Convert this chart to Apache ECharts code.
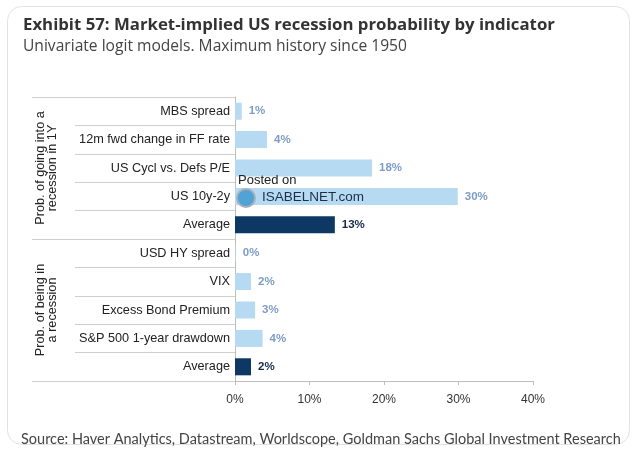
<!DOCTYPE html>
<html><head><meta charset="utf-8">
<script src="https://cdn.jsdelivr.net/npm/echarts@6/dist/echarts.min.js"></script>
<style>html,body{margin:0;padding:0;background:#fff}#c{width:637px;height:452px}</style>
</head><body><div id="c"></div>
<script>
const categories = ['MBS spread','12m fwd change in FF rate','US Cycl vs. Defs P/E','US 10y-2y','Average',
  'USD HY spread','VIX','Excess Bond Premium','S&P 500 1-year drawdown','Average'];
const values = [0.9, 4.3, 18.4, 29.9, 13.4, 0.1, 2.15, 2.7, 3.7, 2.15];
const isAverage = [false,false,false,false,true,false,false,false,false,true];
const groups = ['Prob. of going into a\nrecession in 1Y', 'Prob. of being in\na recession'];
const xTicks = [0, 10, 20, 30, 40];

const chart = echarts.init(document.getElementById('c'), null, {renderer:'canvas'});
const lightBar = '#b5daf2', darkBar = '#0d3863';
const lineCol = '#cfcfcf';
chart.setOption({
  animation:false,
  backgroundColor:'#fff',
  title:[
    {text:'Exhibit 57: Market-implied US recession probability by indicator',
     subtext:'Univariate logit models. Maximum history since 1950',
     left:18, top:12, itemGap:5,
     textStyle:{fontFamily:'Open Sans', fontWeight:'bold', fontSize:16.8, color:'#333'},
     subtextStyle:{fontFamily:'Open Sans', fontSize:15.6, color:'#444'}},
    {text:'Source: Haver Analytics, Datastream, Worldscope, Goldman Sachs Global Investment Research',
     left:16, top:427, textStyle:{fontFamily:'Lato', fontWeight:'normal', fontSize:14.5, color:'#444'}}
  ],
  graphic:[
    {type:'rect', shape:{x:7.5, y:6.5, width:622, height:438, r:14}, style:{fill:'none', stroke:'#e2e2e2', lineWidth:1}, z:-1},
    {type:'text', left:238, top:174, style:{text:'Posted on', font:'13px "Liberation Sans"', fill:'#222'}, z:50},
    {type:'circle', shape:{cx:246, cy:198, r:9}, style:{fill:'#4fa3d6', stroke:'#a8b0b8', lineWidth:2}, z:50},
    {type:'text', left:262, top:190, style:{text:'ISABELNET.com', font:'13.5px "Liberation Sans"', fill:'#1e2f45'}, z:50}
  ],
  grid:{left:235, right:104, top:97, bottom:71},
  xAxis:{type:'value', min:0, max:40, interval:10,
    axisLine:{show:true, lineStyle:{color:'#bdbdbd'}},
    axisTick:{show:true, length:4, lineStyle:{color:'#bdbdbd'}},
    splitLine:{show:false},
    axisLabel:{margin:13, formatter:v=>xTicks.includes(v)?v+'%':'', fontFamily:'Liberation Sans', fontSize:12, color:'#333'}},
  yAxis:[
    {type:'category', data:categories, inverse:true,
     axisLine:{show:true, lineStyle:{color:'#bdbdbd'}},
     axisTick:{show:true, length:160, lineStyle:{color:lineCol}},
     axisLabel:{margin:5, interval:0, fontFamily:'Liberation Sans', fontSize:12.7, color:'#222'}},
    {type:'category', data:groups, inverse:true, position:'left', offset:0,
     axisLine:{show:false},
     axisTick:{show:true, length:203, interval:0, lineStyle:{color:lineCol}},
     axisLabel:{rotate:90, interval:0, hideOverlap:false, margin:177, fontFamily:'Liberation Sans', fontSize:12.7, color:'#222', lineHeight:12, align:'center'}}
  ],
  series:[{
    type:'bar', yAxisIndex:0, barCategoryGap:'40%',
    data:values.map((v,i)=>({value:v,
      itemStyle:{color:isAverage[i]?darkBar:lightBar},
      label:{color:isAverage[i]?'#14294a':'#7d9cc6'}})),
    label:{show:true, position:'right', distance:7, fontFamily:'Liberation Sans', fontSize:11.5, fontWeight:'bold',
      formatter:p=>Math.round(p.value)+'%'}
  }]
});
</script></body></html>
